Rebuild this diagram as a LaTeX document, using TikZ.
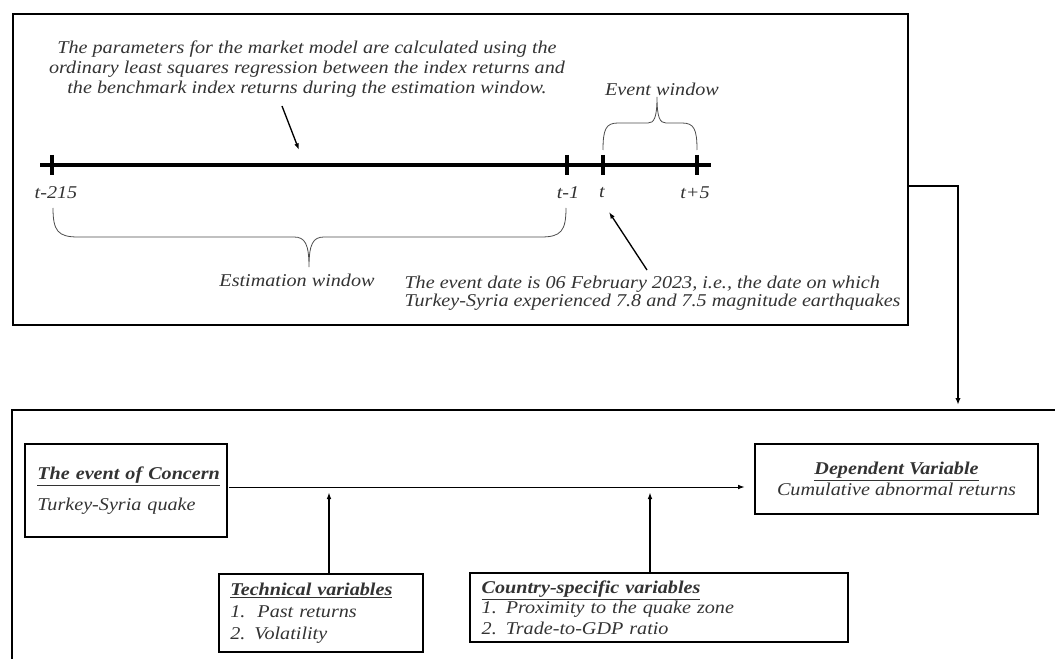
\documentclass[tikz,border=0pt]{standalone}
\usepackage{fontspec}
\setmainfont[FakeStretch=1.12]{Liberation Serif}
\usetikzlibrary{arrows.meta}

\tikzset{every picture/.style={line width=0.75pt}}
\tikzset{
  lbl/.style={inner sep=0.75pt, text=black!80, font=\fontsize{13.5}{15}\selectfont\itshape},
  varbox/.style={draw, line width=1.5pt, inner ysep=2pt, anchor=north west, text=black!80, font=\fontsize{13.5}{16}\selectfont\itshape},
  tick/.style={line width=3pt},
  pointer/.style={line width=1pt, -{Latex[length=5pt,width=3.5pt]}}
}

\begin{document}
\begin{tikzpicture}[x=0.75pt,y=0.75pt,yscale=-1,xscale=1]
\useasboundingbox (0,0) rectangle (1055,659);

%Shape: Rectangle (upper frame)
\node [draw, line width=1.5pt, anchor=north west, minimum width=671.25pt, minimum height=233.25pt, inner sep=0pt] (frame) at (12,13) {};

%Timeline
\coordinate (tstart) at (40,165);
\coordinate (tend) at (711,165);
\coordinate (t0) at (52,165);
\coordinate (t1) at (567,165);
\coordinate (t2) at (603,165);
\coordinate (t3) at (697,165);
\draw [tick] (tstart) -- (tend);
\foreach \c in {t0,t1,t2,t3}
  \draw [tick] ([yshift=-7.5pt]\c) -- ([yshift=7.5pt]\c);

% Text Node
\node [lbl, align=center] (params) at (307,69) {The parameters for the market model are calculated using the\\ordinary least squares regression between the index returns and\\the benchmark index returns during the estimation window.};
\coordinate (pa) at (282,106);
\coordinate (pb) at (299,150);
\draw [pointer] (pa) -- (pb);

% Tick labels
\node [lbl] (l0) at (56,193) {t-215};
\node [lbl] (l1) at (568,193) {t-1};
\node [lbl] (l2) at (602,193) {t};
\node [lbl] (l3) at (695,193) {t+5};

%Curve Lines (estimation window brace)
\draw [line width=0.6pt, black!70] (53,208) .. controls (53,231) and (58,237) .. (78,237) -- (294,237) .. controls (305,237) and (309,244) .. (309,267)
  (566,208) .. controls (566,231) and (561,237) .. (541,237) -- (324,237) .. controls (313,237) and (309,244) .. (309,267);
\node [lbl] (est) at (297,280) {Estimation window};

%Curve Lines (event window brace)
\draw [line width=0.6pt, black!70] (603,150) .. controls (603,129) and (606,123) .. (618,123) -- (648,123) .. controls (654,123) and (657,118) .. (657,97)
  (697,150) .. controls (697,129) and (694,123) .. (682,123) -- (666,123) .. controls (660,123) and (657,118) .. (657,97);
\node [lbl] (evw) at (662,89) {Event window};

% Event date note
\node [lbl, align=left, anchor=west, font=\fontsize{13.5}{12}\selectfont\itshape] (date) at (403,293) {The event date is 06 February 2023, i.e., the date on which\\Turkey-Syria experienced 7.8 and 7.5 magnitude earthquakes};
\coordinate (da) at (647,270);
\coordinate (db) at (609,212);
\draw [pointer] (da) -- (db);

%Lower frame (open)
\coordinate (fa) at (12,659);
\coordinate (fb) at (12,410);
\coordinate (fc) at (1055,410);
\draw [line width=1.8pt] (fa) -- (fb) -- (fc);
\coordinate (bot) at (958,410);
\draw [line width=1.5pt, -{Latex[length=5pt,width=4pt]}, shorten >=4pt] ([yshift=12.4pt]frame.east) -| (bot);

% Boxes
\node [varbox, minimum width=151.5pt, minimum height=69.75pt, inner xsep=9pt, text width=133pt, align=left] (event) at (24,443)
  {\underline{\textbf{The event of Concern}}\\[7pt]Turkey-Syria quake};
\node [varbox, minimum width=212.25pt, minimum height=52.5pt, align=center, font=\fontsize{13.5}{15.75}\selectfont\itshape] (dep) at (754,443)
  {\underline{\textbf{Dependent Variable}}\\Cumulative abnormal returns};
\node [varbox, minimum width=153pt, minimum height=58.5pt, inner xsep=8.25pt, text width=136pt, align=left] (tech) at (218,573)
  {\underline{\textbf{Technical variables}}\\[1pt]1.\ \ Past returns\\2. Volatility};
\node [varbox, minimum width=283.5pt, minimum height=51.75pt, inner xsep=8.25pt, text width=266pt, align=left, font=\fontsize{13.5}{15.5}\selectfont\itshape] (ctry) at (469,572)
  {\underline{\textbf{Country-specific variables}}\\1. Proximity to the quake zone\\2. Trade-to-GDP ratio};

% Connectors
\coordinate (mid) at (229,487);
\draw [pointer, line width=0.75pt, shorten >=7pt] (mid) -- (mid -| dep.west);
\draw [pointer, line width=1.5pt, shorten >=4pt] ([xshift=6pt]tech.north) -- ([xshift=6pt]tech.north |- mid);
\draw [pointer, line width=1.5pt, shorten >=4pt] ([xshift=-6.75pt]ctry.north) -- ([xshift=-6.75pt]ctry.north |- mid);

\end{tikzpicture}
\end{document}
